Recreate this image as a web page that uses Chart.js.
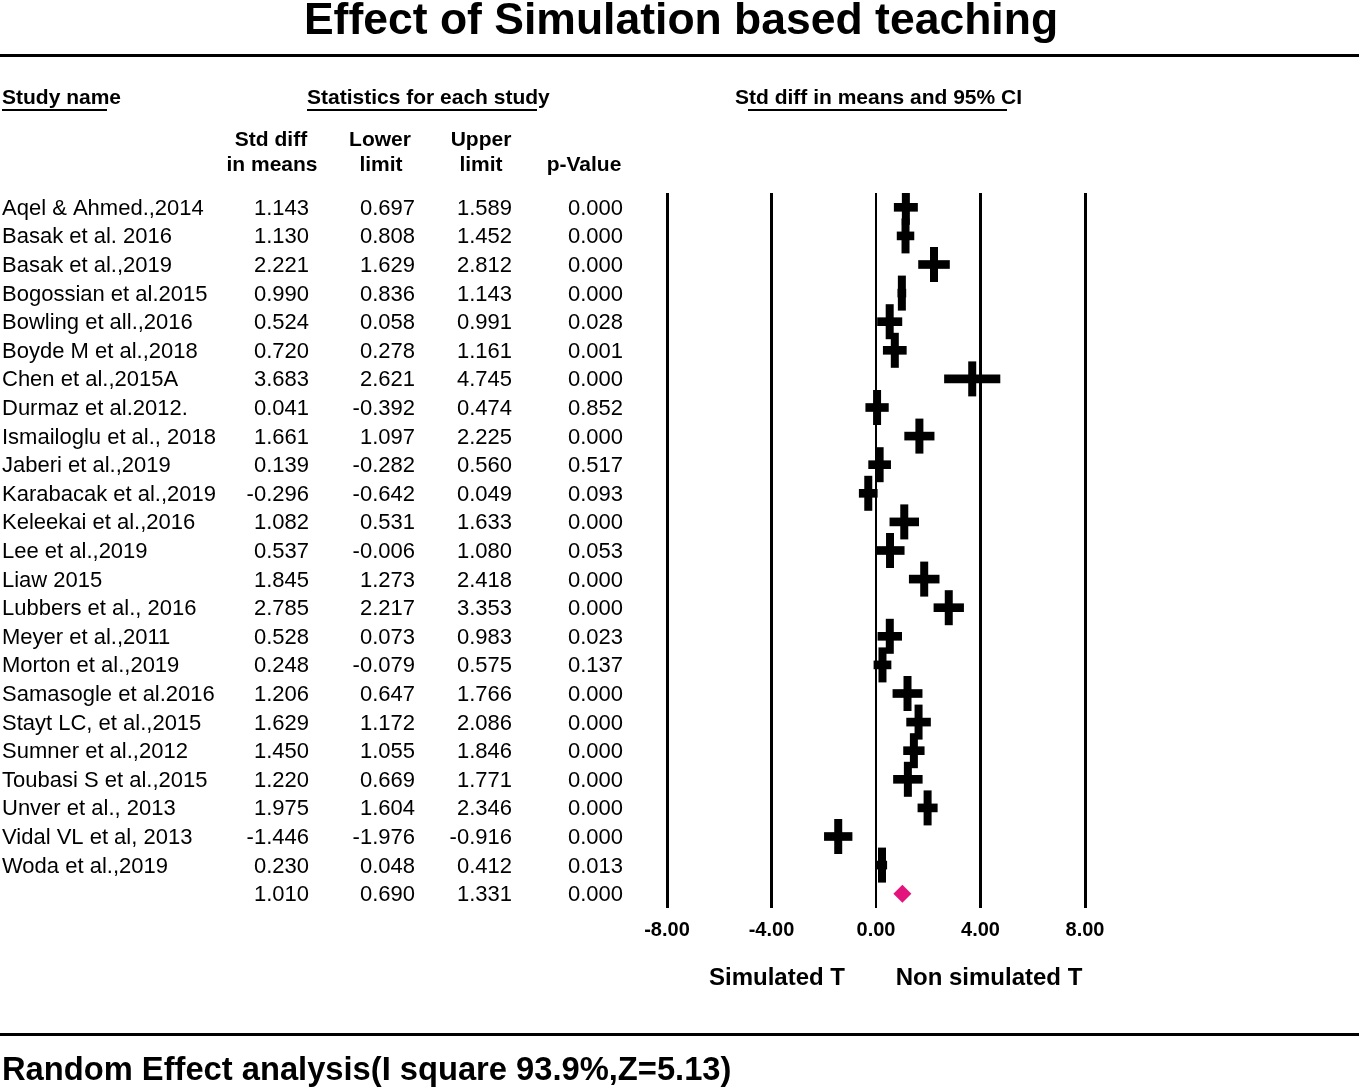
<!DOCTYPE html>
<html>
<head>
<meta charset="utf-8">
<script src="https://cdn.jsdelivr.net/npm/chart.js@4"></script>
<style>
  html, body { margin: 0; padding: 0; background: #fff; }
  canvas { display: block; }
</style>
</head>
<body>
<canvas id="forest" width="1359" height="1089"></canvas>
<script>
// --- Datos del forest plot ---
const studies = [
  'Aqel & Ahmed.,2014', 'Basak et al. 2016', 'Basak et al.,2019', 'Bogossian et al.2015',
  'Bowling et all.,2016', 'Boyde M et al.,2018', 'Chen et al.,2015A', 'Durmaz et al.2012.',
  'Ismailoglu et al., 2018', 'Jaberi et al.,2019', 'Karabacak et al.,2019', 'Keleekai et al.,2016',
  'Lee et al.,2019', 'Liaw 2015', 'Lubbers et al., 2016', 'Meyer et al.,2011',
  'Morton et al.,2019', 'Samasogle et al.2016', 'Stayt LC, et al.,2015', 'Sumner et al.,2012',
  'Toubasi S et al.,2015', 'Unver et al., 2013', 'Vidal VL et al, 2013', 'Woda et al.,2019'
];
const stdDiff = [1.143, 1.130, 2.221, 0.990, 0.524, 0.720, 3.683, 0.041, 1.661, 0.139, -0.296, 1.082,
  0.537, 1.845, 2.785, 0.528, 0.248, 1.206, 1.629, 1.450, 1.220, 1.975, -1.446, 0.230];
const lowerLimit = [0.697, 0.808, 1.629, 0.836, 0.058, 0.278, 2.621, -0.392, 1.097, -0.282, -0.642, 0.531,
  -0.006, 1.273, 2.217, 0.073, -0.079, 0.647, 1.172, 1.055, 0.669, 1.604, -1.976, 0.048];
const upperLimit = [1.589, 1.452, 2.812, 1.143, 0.991, 1.161, 4.745, 0.474, 2.225, 0.560, 0.049, 1.633,
  1.080, 2.418, 3.353, 0.983, 0.575, 1.766, 2.086, 1.846, 1.771, 2.346, -0.916, 0.412];
const pValues = ['0.000', '0.000', '0.000', '0.000', '0.028', '0.001', '0.000', '0.852', '0.000', '0.517',
  '0.093', '0.000', '0.053', '0.000', '0.000', '0.023', '0.137', '0.000', '0.000', '0.000', '0.000',
  '0.000', '0.000', '0.013'];
// Resultado combinado (efectos aleatorios)
const pooled = { mean: 1.010, lower: 0.690, upper: 1.331, p: '0.000' };
const xTicks = [-8, -4, 0, 4, 8];

const FONT = '"Liberation Sans", Arial, sans-serif';
const summaryRow = studies.length;

// Dibuja toda la tabla de texto alineada con las filas del eje Y
const tablePlugin = {
  id: 'tablePlugin',
  afterDraw(chart) {
    const ctx = chart.ctx;
    const y = chart.scales.y;
    ctx.save();
    ctx.fillStyle = '#000';
    ctx.strokeStyle = '#000';

    // Título
    ctx.font = 'bold 44.5px ' + FONT;
    ctx.textAlign = 'center';
    ctx.textBaseline = 'middle';
    ctx.fillText('Effect of Simulation based teaching', 681, 22);

    // Líneas horizontales
    ctx.lineWidth = 3;
    ctx.beginPath();
    ctx.moveTo(0, 55.5); ctx.lineTo(1359, 55.5);
    ctx.moveTo(0, 1034.5); ctx.lineTo(1359, 1034.5);
    ctx.stroke();

    // Encabezados
    ctx.font = 'bold 21px ' + FONT;
    ctx.textAlign = 'left';
    ctx.fillText('Study name', 2, 98);
    ctx.fillText('Statistics for each study', 307, 98);
    ctx.fillText('Std diff in means and 95% CI', 735, 98);
    ctx.lineWidth = 2;
    ctx.beginPath();
    ctx.moveTo(2, 110); ctx.lineTo(107, 110);
    ctx.moveTo(307, 110); ctx.lineTo(537, 110);
    ctx.moveTo(748, 110); ctx.lineTo(1007, 110);
    ctx.stroke();

    ctx.textAlign = 'center';
    ctx.fillText('Std diff', 271, 140);
    ctx.fillText('in means', 272, 165);
    ctx.fillText('Lower', 380, 140);
    ctx.fillText('limit', 381, 165);
    ctx.fillText('Upper', 481, 140);
    ctx.fillText('limit', 481, 165);
    ctx.fillText('p-Value', 584, 165);

    // Filas
    ctx.font = '22px ' + FONT;
    const cols = [309, 415, 512, 623];
    const drawRow = (row, name, vals) => {
      const py = y.getPixelForValue(row) + 1.5;
      if (name) {
        ctx.textAlign = 'left';
        ctx.fillText(name, 2, py);
      }
      ctx.textAlign = 'right';
      vals.forEach((v, k) => ctx.fillText(v, cols[k], py));
    };
    studies.forEach((s, i) => {
      drawRow(i, s, [stdDiff[i].toFixed(3), lowerLimit[i].toFixed(3), upperLimit[i].toFixed(3), pValues[i]]);
    });
    drawRow(summaryRow, '', [pooled.mean.toFixed(3), pooled.lower.toFixed(3), pooled.upper.toFixed(3), pooled.p]);

    // Etiquetas bajo el eje
    ctx.font = 'bold 24px ' + FONT;
    ctx.textAlign = 'center';
    ctx.fillText('Simulated T', 777, 978);
    ctx.fillText('Non simulated T', 989, 978);

    // Pie
    ctx.font = 'bold 32.7px ' + FONT;
    ctx.textAlign = 'left';
    ctx.fillText('Random Effect analysis(I square 93.9%,Z=5.13)', 2, 1071, 732);
    ctx.restore();
  }
};

new Chart(document.getElementById('forest'), {
  type: 'bar',
  data: {
    datasets: [
      {
        // Intervalos de confianza
        type: 'bar',
        indexAxis: 'y',
        data: studies.map((s, i) => ({ x: [lowerLimit[i], upperLimit[i]], y: i })),
        backgroundColor: '#000',
        borderWidth: 0,
        barThickness: 8,
        xAxisID: 'x',
        yAxisID: 'y'
      },
      {
        // Marcador del efecto
        type: 'scatter',
        data: studies.map((s, i) => ({ x: stdDiff[i], y: i })),
        pointStyle: 'line',
        rotation: 90,
        radius: 17.5,
        borderWidth: 8,
        borderColor: '#000',
        xAxisID: 'x',
        yAxisID: 'y'
      },
      {
        // Efecto combinado
        type: 'scatter',
        data: [{ x: pooled.mean, y: summaryRow }],
        pointStyle: 'rectRot',
        radius: 9,
        borderWidth: 0,
        backgroundColor: '#e3147b',
        xAxisID: 'x',
        yAxisID: 'y'
      }
    ]
  },
  options: {
    responsive: false,
    devicePixelRatio: 1,
    animation: false,
    events: [],
    layout: { padding: { left: 667, right: 274, top: 193, bottom: 141 } },
    plugins: { legend: { display: false }, tooltip: { enabled: false } },
    scales: {
      x: {
        type: 'linear',
        offset: false,
        min: xTicks[0],
        max: xTicks[xTicks.length - 1],
        afterBuildTicks: (scale) => { scale.ticks = xTicks.map(v => ({ value: v })); },
        afterFit: (scale) => { scale.height = 40; },
        grid: {
          offset: false,
          color: '#000',
          lineWidth: (c) => (c.tick && c.tick.value === 0 ? 2 : 3),
          drawTicks: false
        },
        border: { display: false },
        ticks: {
          padding: 10,
          color: '#000',
          font: { family: FONT, size: 20, weight: 'bold' },
          callback: (v) => v.toFixed(2)
        }
      },
      y: {
        type: 'linear',
        display: false,
        offset: false,
        grid: { offset: false },
        reverse: true,
        min: -0.5,
        max: 24.5
      }
    }
  },
  plugins: [tablePlugin]
});
</script>
</body>
</html>
